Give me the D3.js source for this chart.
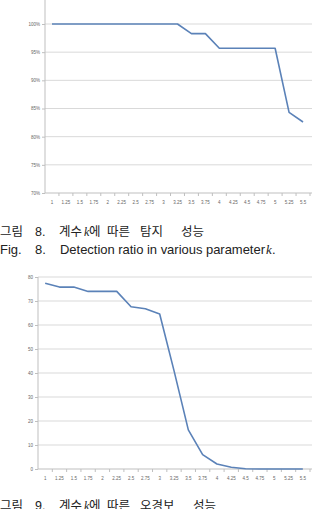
<!DOCTYPE html>
<html>
<head>
<meta charset="utf-8">
<script src="https://cdn.jsdelivr.net/npm/d3@7"></script>
<style>
  body { margin: 0; background: #fff; }
  svg { display: block; }
</style>
</head>
<body>
<div id="container"></div>
<script>
/* DATA */
const ks = ["1", "1.25", "1.5", "1.75", "2", "2.25", "2.5", "2.75", "3", "3.25",
  "3.5", "3.75", "4", "4.25", "4.5", "4.75", "5", "5.25", "5.5"];
const detection = [100, 100, 100, 100, 100, 100, 100, 100, 100, 100,
  98.3, 98.3, 95.7, 95.7, 95.7, 95.7, 95.7, 84.3, 82.6];
const falseAlarm = [77.4, 75.8, 75.8, 74, 74, 74, 67.6, 66.8, 64.6, 41,
  16.3, 6, 2.1, 0.7, 0.1, 0, 0, 0, 0];
const detTicks = [70, 75, 80, 85, 90, 95, 100];
const faTicks = [0, 10, 20, 30, 40, 50, 60, 70, 80];

const width = 314, height = 509;
const lineColor = "#5b82b8";
const gridColor = "#d9d9d9";
const axisColor = "#bfbfbf";
const labelColor = "#666";

const svg = d3.select("#container")
  .append("svg")
  .attr("width", width)
  .attr("height", height);

// one Excel-style line chart
function drawChart(cfg) {
  const xScale = d3.scaleBand()
    .domain(ks)
    .range([cfg.left, cfg.right])
    .padding(0);

  const yScale = d3.scaleLinear()
    .domain(cfg.domain)
    .range([cfg.bottom, cfg.topValue]);

  const g = svg.append("g");

  // gridlines
  g.selectAll("line.grid")
    .data(cfg.ticks.filter(d => d !== cfg.domain[0]))
    .join("line")
    .attr("class", "grid")
    .attr("x1", cfg.left)
    .attr("x2", cfg.right + 2)
    .attr("y1", d => yScale(d))
    .attr("y2", d => yScale(d))
    .attr("stroke", gridColor)
    .attr("stroke-width", 1);

  // y axis
  const yAxis = d3.axisLeft(yScale)
    .tickValues(cfg.ticks)
    .tickFormat(cfg.format)
    .tickSize(3)
    .tickPadding(2);

  const yG = g.append("g")
    .attr("transform", `translate(${cfg.left},0)`)
    .call(yAxis);
  yG.select(".domain").remove();
  yG.selectAll(".tick line").attr("stroke", axisColor);
  yG.selectAll(".tick text")
    .attr("fill", labelColor)
    .style("font-family", "'Liberation Sans', Arial, sans-serif")
    .style("font-size", "4.5px");

  g.append("line")
    .attr("x1", cfg.left).attr("x2", cfg.left)
    .attr("y1", cfg.axisTop).attr("y2", cfg.bottom)
    .attr("stroke", axisColor);

  // x axis
  const xAxis = d3.axisBottom(xScale)
    .tickSize(0)
    .tickPadding(8);
  const xG = g.append("g")
    .attr("transform", `translate(0,${cfg.bottom})`)
    .call(xAxis);
  xG.select(".domain").remove();
  xG.selectAll(".tick text")
    .attr("fill", labelColor)
    .style("font-family", "'Liberation Sans', Arial, sans-serif")
    .style("font-size", "4.5px");

  g.append("line")
    .attr("x1", cfg.left).attr("x2", cfg.right + 2)
    .attr("y1", cfg.bottom).attr("y2", cfg.bottom)
    .attr("stroke", axisColor);

  // category boundary ticks
  g.selectAll("line.xtick")
    .data(ks)
    .join("line")
    .attr("class", "xtick")
    .attr("x1", d => xScale(d) + xScale.bandwidth())
    .attr("x2", d => xScale(d) + xScale.bandwidth())
    .attr("y1", cfg.bottom)
    .attr("y2", cfg.bottom + 3)
    .attr("stroke", axisColor);

  // the series
  const line = d3.line()
    .x((d, i) => xScale(ks[i]) + xScale.bandwidth() / 2)
    .y(d => yScale(d));

  g.append("path")
    .datum(cfg.values)
    .attr("d", line)
    .attr("fill", "none")
    .attr("stroke", lineColor)
    .attr("stroke-width", 1.6)
    .attr("stroke-linejoin", "round");
}

drawChart({
  values: detection,
  ticks: detTicks,
  domain: [70, 100],
  format: d => d + "%",
  left: 45, right: 310,
  bottom: 193, topValue: 24, axisTop: 0
});

drawChart({
  values: falseAlarm,
  ticks: faTicks,
  domain: [0, 80],
  format: d => d,
  left: 38, right: 310,
  bottom: 469, topValue: 277, axisTop: 277
});

// captions
const krFont = "'Noto Sans CJK KR', sans-serif";
const enFont = "'Liberation Sans', Arial, sans-serif";

function krCaption(y, num, words, lastX) {
  const t = svg.append("g").style("font-family", krFont).style("font-size", "12.5px").attr("fill", "#222");
  t.append("text").attr("x", 0).attr("y", y).text("그림");
  t.append("text").attr("x", 35).attr("y", y).style("font-family", enFont).style("font-size", "12.5px").text(num + ".");
  t.append("text").attr("x", 59).attr("y", y).text("계수");
  t.append("text").attr("x", 84).attr("y", y)
    .style("font-family", "'Liberation Serif', serif").style("font-style", "italic").style("font-size", "12px").text("k");
  t.append("text").attr("x", 89).attr("y", y).text("에");
  t.append("text").attr("x", 107).attr("y", y).text("따른");
  t.append("text").attr("x", 140).attr("y", y).text(words[0]);
  t.append("text").attr("x", lastX).attr("y", y).text(words[1]);
}

krCaption(236, 8, ["탐지", "성능"], 181);

const en = svg.append("g").style("font-family", enFont).style("font-size", "13px").attr("fill", "#222");
en.append("text").attr("x", 0).attr("y", 254).text("Fig.");
en.append("text").attr("x", 35).attr("y", 254).text("8.");
en.append("text").attr("x", 60).attr("y", 254)
  .attr("textLength", 205).attr("lengthAdjust", "spacing")
  .text("Detection ratio in various parameter");
en.append("text").attr("x", 266).attr("y", 254)
  .style("font-family", "'Liberation Serif', serif").style("font-style", "italic").text("k");
en.append("text").attr("x", 272).attr("y", 254).text(".");

krCaption(510, 9, ["오경보", "성능"], 193);
</script>
</body>
</html>
